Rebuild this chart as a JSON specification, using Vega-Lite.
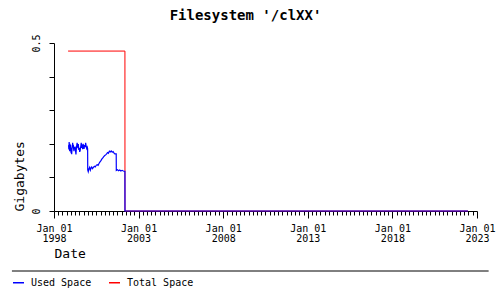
{
  "$schema": "https://vega.github.io/schema/vega-lite/v6.json",
  "autosize": "none",
  "width": 423,
  "height": 168,
  "padding": {"left": 54, "top": 43, "right": 23, "bottom": 89},
  "background": "white",
  "title": {"text": "Filesystem '/clXX'", "font": "DejaVu Sans Mono", "fontSize": 14, "fontWeight": "bold", "color": "black", "anchor": "middle", "frame": "group", "dx": -20, "offset": 0, "baseline": "alphabetic"},
  "config": {
    "font": "DejaVu Sans Mono",
    "view": {"stroke": null},
    "axis": {"grid": false, "domainColor": "black", "tickColor": "black", "labelColor": "black", "titleColor": "black", "labelFont": "DejaVu Sans Mono", "titleFont": "DejaVu Sans Mono", "titleFontWeight": "normal", "labelFontSize": 10, "titleFontSize": 13, "domainWidth": 1, "tickWidth": 1},
    "legend": {"labelFont": "DejaVu Sans Mono", "labelColor": "black"}
  },
  "data": {"values": [
    {"date": "1998-11-01", "series": "Total Space", "value": 0.476},
    {"date": "2002-03-12", "series": "Total Space", "value": 0.476},
    {"date": "2002-03-13", "series": "Total Space", "value": 0},
    {"date": "2022-06-20", "series": "Total Space", "value": 0},
    {"date": "1998-11-12", "series": "Used Space", "value": 0.196},
    {"date": "1998-11-18", "series": "Used Space", "value": 0.183},
    {"date": "1998-11-24", "series": "Used Space", "value": 0.205},
    {"date": "1998-11-30", "series": "Used Space", "value": 0.190},
    {"date": "1998-12-06", "series": "Used Space", "value": 0.178},
    {"date": "1998-12-12", "series": "Used Space", "value": 0.200},
    {"date": "1998-12-18", "series": "Used Space", "value": 0.186},
    {"date": "1998-12-24", "series": "Used Space", "value": 0.196},
    {"date": "1998-12-30", "series": "Used Space", "value": 0.181},
    {"date": "1999-01-06", "series": "Used Space", "value": 0.172},
    {"date": "1999-01-12", "series": "Used Space", "value": 0.188},
    {"date": "1999-01-18", "series": "Used Space", "value": 0.169},
    {"date": "1999-01-24", "series": "Used Space", "value": 0.183},
    {"date": "1999-02-01", "series": "Used Space", "value": 0.193},
    {"date": "1999-02-08", "series": "Used Space", "value": 0.203},
    {"date": "1999-02-15", "series": "Used Space", "value": 0.189},
    {"date": "1999-02-22", "series": "Used Space", "value": 0.197},
    {"date": "1999-03-01", "series": "Used Space", "value": 0.185},
    {"date": "1999-03-08", "series": "Used Space", "value": 0.178},
    {"date": "1999-03-15", "series": "Used Space", "value": 0.190},
    {"date": "1999-03-22", "series": "Used Space", "value": 0.184},
    {"date": "1999-04-01", "series": "Used Space", "value": 0.192},
    {"date": "1999-04-10", "series": "Used Space", "value": 0.180},
    {"date": "1999-04-20", "series": "Used Space", "value": 0.168},
    {"date": "1999-04-28", "series": "Used Space", "value": 0.185},
    {"date": "1999-05-06", "series": "Used Space", "value": 0.195},
    {"date": "1999-05-15", "series": "Used Space", "value": 0.203},
    {"date": "1999-05-24", "series": "Used Space", "value": 0.196},
    {"date": "1999-06-01", "series": "Used Space", "value": 0.187},
    {"date": "1999-06-10", "series": "Used Space", "value": 0.199},
    {"date": "1999-06-20", "series": "Used Space", "value": 0.182},
    {"date": "1999-06-30", "series": "Used Space", "value": 0.188},
    {"date": "1999-07-10", "series": "Used Space", "value": 0.176},
    {"date": "1999-07-20", "series": "Used Space", "value": 0.180},
    {"date": "1999-08-01", "series": "Used Space", "value": 0.192},
    {"date": "1999-08-12", "series": "Used Space", "value": 0.203},
    {"date": "1999-08-22", "series": "Used Space", "value": 0.188},
    {"date": "1999-09-01", "series": "Used Space", "value": 0.198},
    {"date": "1999-09-12", "series": "Used Space", "value": 0.184},
    {"date": "1999-09-22", "series": "Used Space", "value": 0.200},
    {"date": "1999-10-02", "series": "Used Space", "value": 0.192},
    {"date": "1999-10-12", "series": "Used Space", "value": 0.185},
    {"date": "1999-10-24", "series": "Used Space", "value": 0.196},
    {"date": "1999-11-04", "series": "Used Space", "value": 0.190},
    {"date": "1999-11-15", "series": "Used Space", "value": 0.203},
    {"date": "1999-11-26", "series": "Used Space", "value": 0.194},
    {"date": "1999-12-08", "series": "Used Space", "value": 0.186},
    {"date": "1999-12-20", "series": "Used Space", "value": 0.190},
    {"date": "1999-12-28", "series": "Used Space", "value": 0.185},
    {"date": "1999-12-30", "series": "Used Space", "value": 0.122},
    {"date": "2000-01-10", "series": "Used Space", "value": 0.117},
    {"date": "2000-01-25", "series": "Used Space", "value": 0.125},
    {"date": "2000-02-10", "series": "Used Space", "value": 0.130},
    {"date": "2000-02-25", "series": "Used Space", "value": 0.122},
    {"date": "2000-03-10", "series": "Used Space", "value": 0.128},
    {"date": "2000-03-25", "series": "Used Space", "value": 0.131},
    {"date": "2000-04-10", "series": "Used Space", "value": 0.126},
    {"date": "2000-05-01", "series": "Used Space", "value": 0.130},
    {"date": "2000-05-20", "series": "Used Space", "value": 0.133},
    {"date": "2000-06-10", "series": "Used Space", "value": 0.131},
    {"date": "2000-07-01", "series": "Used Space", "value": 0.136},
    {"date": "2000-07-20", "series": "Used Space", "value": 0.138},
    {"date": "2000-08-10", "series": "Used Space", "value": 0.136},
    {"date": "2000-09-01", "series": "Used Space", "value": 0.142},
    {"date": "2000-09-20", "series": "Used Space", "value": 0.146},
    {"date": "2000-10-10", "series": "Used Space", "value": 0.150},
    {"date": "2000-11-01", "series": "Used Space", "value": 0.155},
    {"date": "2000-11-20", "series": "Used Space", "value": 0.158},
    {"date": "2000-12-10", "series": "Used Space", "value": 0.162},
    {"date": "2001-01-01", "series": "Used Space", "value": 0.165},
    {"date": "2001-01-20", "series": "Used Space", "value": 0.167},
    {"date": "2001-02-10", "series": "Used Space", "value": 0.170},
    {"date": "2001-03-01", "series": "Used Space", "value": 0.174},
    {"date": "2001-03-20", "series": "Used Space", "value": 0.172},
    {"date": "2001-04-10", "series": "Used Space", "value": 0.178},
    {"date": "2001-05-01", "series": "Used Space", "value": 0.176},
    {"date": "2001-05-20", "series": "Used Space", "value": 0.179},
    {"date": "2001-06-10", "series": "Used Space", "value": 0.175},
    {"date": "2001-07-01", "series": "Used Space", "value": 0.177},
    {"date": "2001-07-20", "series": "Used Space", "value": 0.172},
    {"date": "2001-08-05", "series": "Used Space", "value": 0.170},
    {"date": "2001-09-05", "series": "Used Space", "value": 0.170},
    {"date": "2001-09-07", "series": "Used Space", "value": 0.121},
    {"date": "2001-10-01", "series": "Used Space", "value": 0.123},
    {"date": "2001-10-25", "series": "Used Space", "value": 0.120},
    {"date": "2001-11-20", "series": "Used Space", "value": 0.122},
    {"date": "2001-12-15", "series": "Used Space", "value": 0.119},
    {"date": "2002-01-10", "series": "Used Space", "value": 0.121},
    {"date": "2002-02-05", "series": "Used Space", "value": 0.119},
    {"date": "2002-03-12", "series": "Used Space", "value": 0.118},
    {"date": "2002-03-13", "series": "Used Space", "value": 0},
    {"date": "2022-06-20", "series": "Used Space", "value": 0}
  ]},
  "layer": [
    {
      "encoding": {
        "x": {
          "field": "date", "type": "temporal",
          "scale": {"type": "utc", "domain": [{"year": 1998, "month": 1, "date": 1, "utc": true}, {"year": 2023, "month": 1, "date": 1, "utc": true}]},
          "axis": {
            "title": "Date", "titleAnchor": "start", "titleAlign": "left", "titlePadding": 4, "titleFontWeight": "normal",
            "tickCount": {"interval": "month", "step": 3},
            "tickSize": {"condition": {"test": "utcmonth(datum.value) == 0 && (utcyear(datum.value) - 1998) % 5 == 0", "value": 7}, "value": 4},
            "labelExpr": "utcmonth(datum.value) == 0 && (utcyear(datum.value) - 1998) % 5 == 0 ? [utcFormat(datum.value, '%b %d'), utcFormat(datum.value, '%Y')] : ''",
            "labelOverlap": false, "labelFlush": false, "labelBound": false,
            "labelPadding": 5, "labelLineHeight": 10, "labelAngle": 0, "labelAlign": "center"
          }
        },
        "y": {
          "field": "value", "type": "quantitative",
          "scale": {"domain": [0, 0.5], "nice": false},
          "axis": {
            "title": "Gigabytes", "titleAnchor": "start", "titlePadding": 5, "titleFontWeight": "normal",
            "values": [0, 0.1, 0.2, 0.3, 0.4, 0.5],
            "labelExpr": "datum.value == 0 ? '0' : (datum.value == 0.5 ? '0.5' : '')",
            "labelAngle": -90, "tickSize": 5, "labelPadding": 8
          }
        },
        "color": {
          "field": "series", "type": "nominal",
          "scale": {"domain": ["Used Space", "Total Space"], "range": ["#0000ff", "#ff0000"]},
          "legend": {"orient": "none", "legendX": -42, "legendY": 233, "direction": "horizontal", "title": null, "symbolType": "stroke", "symbolSize": 121, "symbolStrokeWidth": 1.5, "labelFontSize": 10, "labelOffset": 6, "columnPadding": 14, "padding": 0}
        }
      },
      "layer": [
        {"transform": [{"filter": "datum.series == 'Total Space'"}], "mark": {"type": "line", "strokeWidth": 1}},
        {"transform": [{"filter": "datum.series == 'Used Space'"}], "mark": {"type": "line", "strokeWidth": 1.2}}
      ]
    },
    {
      "data": {"values": [{}]},
      "mark": {"type": "rule", "color": "black", "strokeWidth": 1},
      "encoding": {
        "x": {
          "datum": {"year": 1995, "month": 7, "date": 8, "utc": true}, "type": "temporal",
          "scale": {"type": "utc", "domain": [{"year": 1998, "month": 1, "date": 1, "utc": true}, {"year": 2023, "month": 1, "date": 1, "utc": true}]},
          "axis": {
            "title": "Date", "titleAnchor": "start", "titleAlign": "left", "titlePadding": 4, "titleFontWeight": "normal",
            "tickCount": {"interval": "month", "step": 3},
            "tickSize": {"condition": {"test": "utcmonth(datum.value) == 0 && (utcyear(datum.value) - 1998) % 5 == 0", "value": 7}, "value": 4},
            "labelExpr": "utcmonth(datum.value) == 0 && (utcyear(datum.value) - 1998) % 5 == 0 ? [utcFormat(datum.value, '%b %d'), utcFormat(datum.value, '%Y')] : ''",
            "labelOverlap": false, "labelFlush": false, "labelBound": false,
            "labelPadding": 5, "labelLineHeight": 10, "labelAngle": 0, "labelAlign": "center"
          }
        },
        "x2": {"datum": {"year": 2023, "month": 9, "date": 9, "utc": true}},
        "y": {
          "datum": -0.1786, "type": "quantitative",
          "scale": {"domain": [0, 0.5], "nice": false},
          "axis": {
            "title": "Gigabytes", "titleAnchor": "start", "titlePadding": 5, "titleFontWeight": "normal",
            "values": [0, 0.1, 0.2, 0.3, 0.4, 0.5],
            "labelExpr": "datum.value == 0 ? '0' : (datum.value == 0.5 ? '0.5' : '')",
            "labelAngle": -90, "tickSize": 5, "labelPadding": 8
          }
        }
      }
    }
  ]
}
